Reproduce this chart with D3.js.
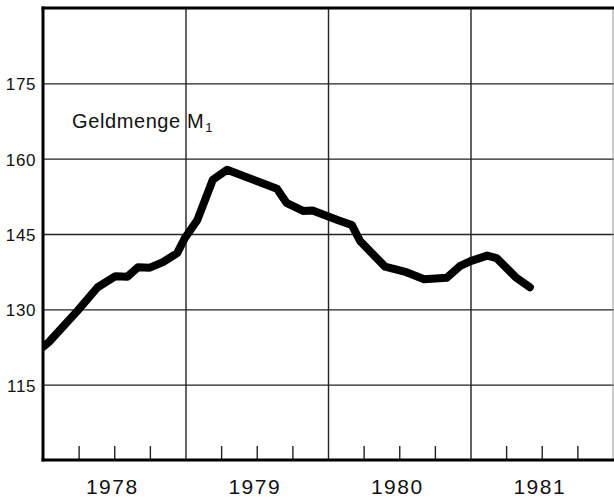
<!DOCTYPE html>
<html>
<head>
<meta charset="utf-8">
<script src="https://cdn.jsdelivr.net/npm/d3@7"></script>
<style>
  html, body { margin: 0; padding: 0; background: #fff; }
  svg { display: block; }
  text { font-family: "Liberation Sans", Arial, Helvetica, sans-serif; fill: #111; }
</style>
</head>
<body>
<svg id="chart" width="614" height="498"></svg>
<script>
// ---- data (months since Jan 1978, value) ----
const months = [0, 0.5, 2.9, 4.6, 6.1, 7.1, 8.0, 9.0, 10.1, 11.3, 11.95, 13.0, 14.3, 15.5,
                19.7, 20.5, 21.9, 22.7, 24.8, 26.0, 26.7, 28.8, 30.6, 32.1, 34.0, 35.1,
                36.0, 37.4, 38.2, 39.8, 41.0];
const values = [122.5, 123.5, 129.7, 134.4, 136.6, 136.5, 138.4, 138.3, 139.4, 141.2, 144.2, 147.8, 155.8, 157.8,
                154.0, 151.2, 149.6, 149.7, 147.8, 146.8, 143.6, 138.5, 137.4, 136.0, 136.3, 138.6,
                139.6, 140.7, 140.2, 136.4, 134.4];
const yTicks = [115, 130, 145, 160, 175];
const years = ["1978", "1979", "1980", "1981"];
const quarterTicks = [3, 6, 9, 15, 18, 21, 27, 30, 33, 39, 42, 45];
const yearLines = [12, 24, 36];
const seriesLabel = "Geldmenge M";
const seriesSub = "1";

const svg = d3.select("#chart");
const L = 43, R = 613, T = 8, B = 460;

const x = d3.scaleLinear().domain([0, 48]).range([L, R]);
const y = d3.scaleLinear().domain([100, 190]).range([B, T]);

// horizontal grid + labels
const yAxis = d3.axisLeft(y).tickValues(yTicks).tickSize(-(R - L + 1)).tickPadding(8).tickFormat(d3.format("d"));
const gy = svg.append("g").attr("transform", `translate(${L},0)`).call(yAxis);
gy.select(".domain").remove();
gy.selectAll(".tick line").attr("stroke", "#222").attr("stroke-width", 1.4);
gy.selectAll(".tick text").attr("font-size", 17).attr("letter-spacing", 0.6)
  .attr("x", -7).attr("dy", "0.38em").attr("fill", "#111");

// vertical year gridlines
const gx = svg.append("g").attr("transform", `translate(0,${B})`)
  .call(d3.axisBottom(x).tickValues(yearLines).tickSize(-(B - T)).tickFormat(""));
gx.select(".domain").remove();
gx.selectAll(".tick line").attr("stroke", "#222").attr("stroke-width", 1.4);

// quarter ticks
const gq = svg.append("g").attr("transform", `translate(0,${B})`)
  .call(d3.axisBottom(x).tickValues(quarterTicks).tickSize(-14).tickFormat(""));
gq.select(".domain").remove();
gq.selectAll(".tick line").attr("stroke", "#222").attr("stroke-width", 1.4);

// year labels
svg.append("g").selectAll("text").data(years).join("text")
  .attr("x", (d, i) => x(i * 12 + 6) - 2)
  .attr("y", 494)
  .attr("text-anchor", "middle")
  .attr("font-size", 21)
  .attr("letter-spacing", 1.5)
  .text(d => d);

// frame
svg.append("line").attr("x1", R).attr("x2", R).attr("y1", T).attr("y2", B)
  .attr("stroke", "#999").attr("stroke-width", 1);
svg.append("line").attr("x1", L - 1.5).attr("x2", R + 1).attr("y1", T).attr("y2", T)
  .attr("stroke", "#000").attr("stroke-width", 3);
svg.append("line").attr("x1", L - 1.5).attr("x2", R + 1).attr("y1", B).attr("y2", B)
  .attr("stroke", "#000").attr("stroke-width", 3);
svg.append("line").attr("x1", L).attr("x2", L).attr("y1", T - 1.5).attr("y2", B + 1.5)
  .attr("stroke", "#000").attr("stroke-width", 3);

// series label
const lab = svg.append("text").attr("x", 72).attr("y", 128).attr("font-size", 20).attr("letter-spacing", 0.6);
lab.append("tspan").text(seriesLabel);
lab.append("tspan").attr("font-size", 13).attr("dy", 4).attr("dx", 1).text(seriesSub);

// line
svg.append("clipPath").attr("id", "clip").append("rect")
  .attr("x", L).attr("y", T).attr("width", R - L).attr("height", B - T);
const line = d3.line().x(d => x(d[0])).y(d => y(d[1])).curve(d3.curveLinear);
svg.append("path")
  .datum(months.map((m, i) => [m, values[i]]))
  .attr("clip-path", "url(#clip)")
  .attr("d", line)
  .attr("fill", "none")
  .attr("stroke", "#000")
  .attr("stroke-width", 8)
  .attr("stroke-linejoin", "round")
  .attr("stroke-linecap", "round");
</script>
</body>
</html>
